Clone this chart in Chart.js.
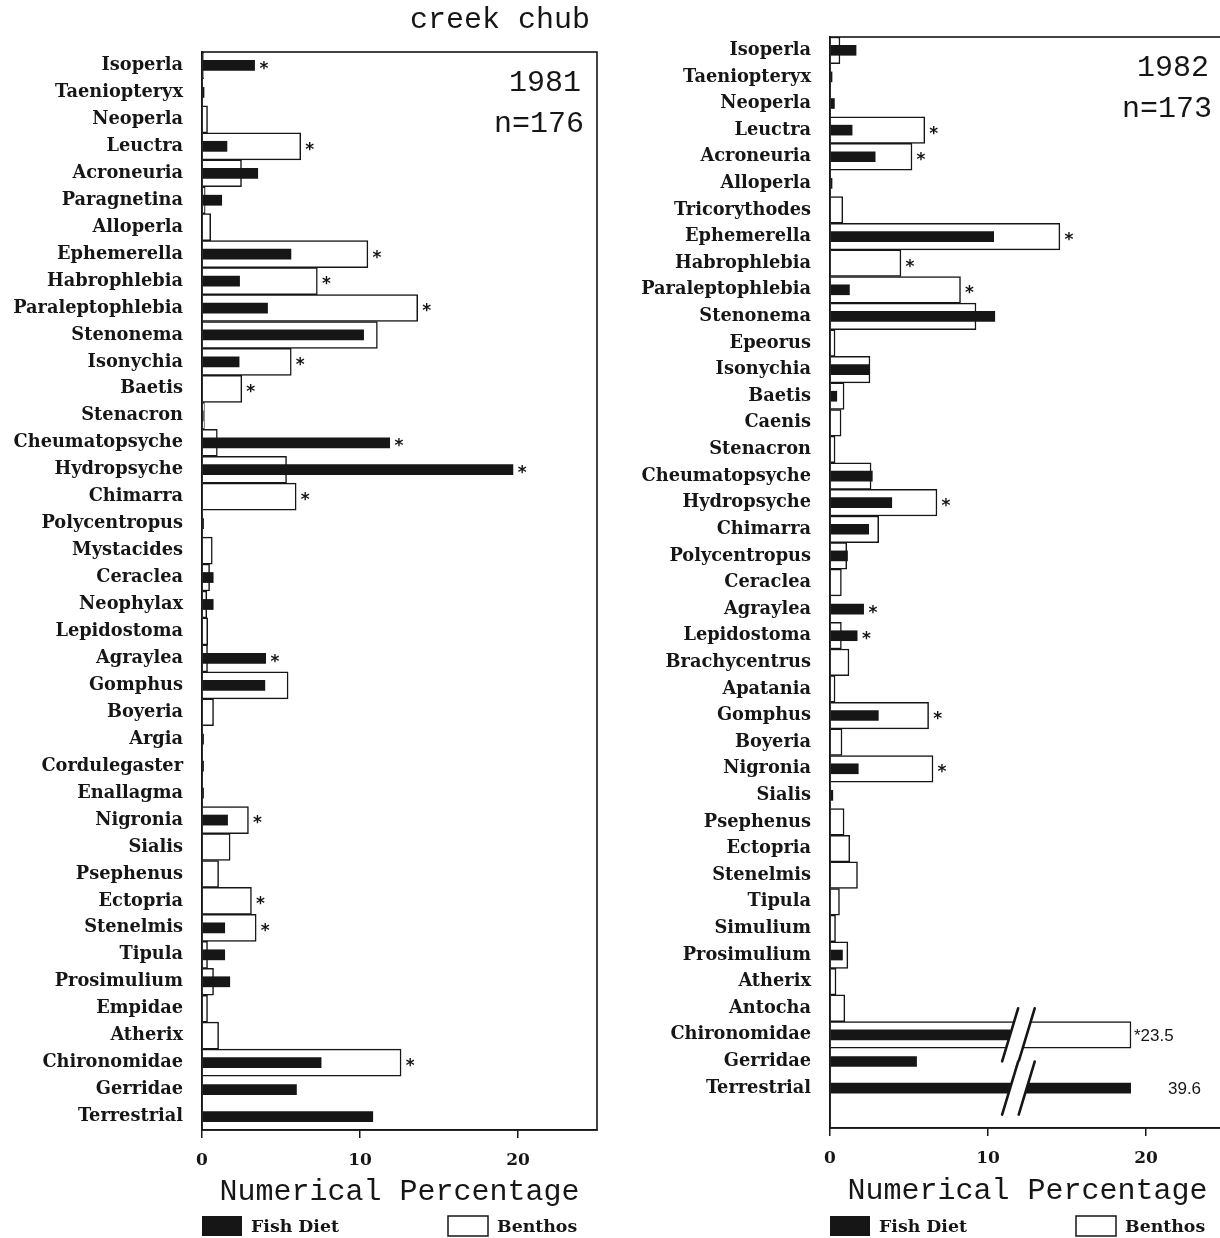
<!DOCTYPE html>
<html>
<head>
<meta charset="utf-8">
<script src="https://cdn.jsdelivr.net/npm/chart.js@4.4.1/dist/chart.umd.min.js"></script>
<style>
  html, body { margin: 0; padding: 0; background: #fff; overflow: hidden; width: 1220px; height: 1238px; }
  canvas { position: absolute; top: 0; }
  #c1 { left: 0; }
  #c2 { left: 610px; }
</style>
</head>
<body>
<canvas id="c1" width="610" height="1238"></canvas>
<canvas id="c2" width="620" height="1238"></canvas>
<script>
// ---------------- DATA ----------------
const categories1981 = ['Isoperla','Taeniopteryx','Neoperla','Leuctra','Acroneuria','Paragnetina','Alloperla',
  'Ephemerella','Habrophlebia','Paraleptophlebia','Stenonema','Isonychia','Baetis','Stenacron','Cheumatopsyche',
  'Hydropsyche','Chimarra','Polycentropus','Mystacides','Ceraclea','Neophylax','Lepidostoma','Agraylea','Gomphus',
  'Boyeria','Argia','Cordulegaster','Enallagma','Nigronia','Sialis','Psephenus','Ectopria','Stenelmis','Tipula',
  'Prosimulium','Empidae','Atherix','Chironomidae','Gerridae','Terrestrial'];
const fishDiet1981 = [3.35,0.15,0,1.6,3.55,1.27,0,5.65,2.4,4.17,10.25,2.37,0,0.1,11.9,19.7,0,0.12,0,0.73,0.73,0,
  4.05,4.0,0,0.12,0.12,0.12,1.64,0,0,0,1.46,1.46,1.78,0,0,7.56,6.0,10.83];
const benthos1981 = [0.1,0,0.35,6.25,2.5,0.2,0.55,10.5,7.3,13.65,11.1,5.65,2.52,0.15,0.97,5.35,5.96,0,0.65,0.48,0.3,
  0.36,0.35,5.45,0.73,0,0,0,2.94,1.78,1.05,3.13,3.43,0.35,0.73,0.35,1.05,12.6,0,0];
const signif1981 = [1,0,0,1,0,0,0,1,1,1,0,1,1,0,1,1,1,0,0,0,0,0,1,0,0,0,0,0,1,0,0,1,1,0,0,0,0,1,0,0];

const categories1982 = ['Isoperla','Taeniopteryx','Neoperla','Leuctra','Acroneuria','Alloperla','Tricorythodes',
  'Ephemerella','Habrophlebia','Paraleptophlebia','Stenonema','Epeorus','Isonychia','Baetis','Caenis','Stenacron',
  'Cheumatopsyche','Hydropsyche','Chimarra','Polycentropus','Ceraclea','Agraylea','Lepidostoma','Brachycentrus',
  'Apatania','Gomphus','Boyeria','Nigronia','Sialis','Psephenus','Ectopria','Stenelmis','Tipula','Simulium',
  'Prosimulium','Atherix','Antocha','Chironomidae','Gerridae','Terrestrial',''];
const fishDiet1982 = [1.67,0.15,0.3,1.42,2.88,0.15,0,10.38,0,1.25,10.45,0,2.47,0.45,0,0,2.7,3.93,2.47,1.13,0,2.15,
  1.74,0,0,3.08,0,1.81,0.2,0,0,0,0,0,0.81,0,0,11.4,5.5,39.6,null];
const benthos1982 = [0.63,0,0,6.0,5.19,0,0.81,14.55,4.49,8.26,9.24,0.32,2.53,0.89,0.7,0.32,2.6,6.77,3.08,1.06,0.72,0,
  0.72,1.2,0.32,6.24,0.76,6.52,0,0.89,1.25,1.74,0.6,0.35,1.13,0.38,0.94,23.5,0,0,null];
const signif1982 = [0,0,0,1,1,0,0,1,1,1,0,0,0,0,0,0,0,1,0,0,0,1,1,0,0,1,0,1,0,0,0,0,0,0,0,0,0,1,0,0,0];

const xTicks = [0, 10, 20];
const seriesNames = ['Fish Diet', 'Benthos'];

// axis break (values beyond the limit are drawn broken)
const BREAK_LIMIT = 20;
const BROKEN_SHOWN = 19.05;
const BREAK_A = 11.4, BREAK_B = 12.45;

// ---------------- STYLE ----------------
const INK = '#161616';
const LABEL_FONT = 'DejaVu Serif';
const MONO = 'Liberation Mono';
const toShown = v => (v == null ? v : (v > BREAK_LIMIT ? BROKEN_SHOWN : v));

function fitSize(text, family, weight, target, cap) {
  const c = document.createElement('canvas').getContext('2d');
  c.font = weight + ' 100px "' + family + '"';
  const s = 100 * target / c.measureText(text).width;
  return Math.min(s, cap);
}
const LABEL_SIZE = fitSize('Paraleptophlebia', LABEL_FONT, 'bold', 170, 19);
const LEGEND_SIZE = fitSize('Fish Diet', LABEL_FONT, 'bold', 88, 19);

function build(id, cfg) {
  const extras = {
    id: 'extras',
    afterDatasetsDraw(chart) {
      const { ctx, scales: { x, y } } = chart;
      ctx.save();
      // axis breaks
      cfg.cats.forEach((c, i) => {
        const tv = Math.max(cfg.fish[i] || 0, cfg.benthos[i] || 0);
        if (tv <= BREAK_LIMIT) return;
        const yc = y.getPixelForValue(i);
        const h = 26.5, run = 8;
        const xa = x.getPixelForValue(BREAK_A), xb = x.getPixelForValue(BREAK_B);
        ctx.fillStyle = '#fff';
        ctx.beginPath();
        ctx.moveTo(xa - run, yc + h); ctx.lineTo(xa + run, yc - h);
        ctx.lineTo(xb + run, yc - h); ctx.lineTo(xb - run, yc + h);
        ctx.closePath(); ctx.fill();
        ctx.strokeStyle = INK; ctx.lineWidth = 2.6; ctx.lineCap = 'round';
        ctx.beginPath();
        ctx.moveTo(xa - run, yc + h); ctx.lineTo(xa + run, yc - h);
        ctx.moveTo(xb - run, yc + h); ctx.lineTo(xb + run, yc - h);
        ctx.stroke();
      });
      // asterisks and value notes
      ctx.fillStyle = INK;
      ctx.textBaseline = 'middle';
      cfg.cats.forEach((c, i) => {
        const tv = Math.max(cfg.fish[i] || 0, cfg.benthos[i] || 0);
        const end = x.getPixelForValue(toShown(tv));
        const yc = y.getPixelForValue(i);
        if (tv > BREAK_LIMIT) {
          ctx.font = '17px "Liberation Sans"';
          ctx.textAlign = 'left';
          ctx.fillText((cfg.sig[i] ? '*' : '') + tv.toFixed(1), end + (cfg.sig[i] ? 3 : 37), yc + 1);
        } else if (cfg.sig[i]) {
          ctx.font = 'bold 17px "DejaVu Sans"';
          ctx.textAlign = 'center';
          ctx.fillText('*', end + 9, yc + 4);
        }
      });
      ctx.restore();
    },
    afterDraw(chart) {
      const { ctx, chartArea: a } = chart;
      ctx.save();
      ctx.strokeStyle = INK; ctx.lineWidth = 1.6;
      ctx.strokeRect(a.left, a.top, a.right - a.left, a.bottom - a.top);
      ctx.fillStyle = INK;
      ctx.font = '30px "' + MONO + '"';
      ctx.textAlign = 'right'; ctx.textBaseline = 'middle';
      ctx.fillText(cfg.year, a.right - 16, a.top + 31);
      ctx.fillText('n=' + cfg.n, a.right - 13, a.top + 72);
      if (cfg.title) ctx.fillText(cfg.title, a.right - 7, 20);
      // legend
      const ly = chart.height - 12;
      chart.data.datasets.forEach((ds, k) => {
        const bx = a.left + (k === 0 ? 0 : 246);
        ctx.fillStyle = ds.backgroundColor;
        ctx.fillRect(bx, ly - 10, 40, 20);
        if (ds.borderWidth) {
          ctx.strokeStyle = ds.borderColor; ctx.lineWidth = 1.5;
          ctx.strokeRect(bx, ly - 10, 40, 20);
        }
        ctx.fillStyle = INK;
        ctx.font = 'bold ' + LEGEND_SIZE + 'px "' + LABEL_FONT + '"';
        ctx.textAlign = 'left';
        ctx.fillText(ds.label, bx + 49, ly + 1);
      });
      ctx.restore();
    }
  };

  return new Chart(document.getElementById(id), {
    type: 'bar',
    data: {
      labels: cfg.cats,
      datasets: [
        { label: seriesNames[0], data: cfg.fish.map(toShown), backgroundColor: INK, borderWidth: 0,
          barPercentage: 0.4, categoryPercentage: 1, grouped: false, order: 0 },
        { label: seriesNames[1], data: cfg.benthos.map(toShown), backgroundColor: '#ffffff', borderColor: INK,
          borderWidth: 1.5, barPercentage: 1, categoryPercentage: 1, grouped: false, order: 1 }
      ]
    },
    options: {
      indexAxis: 'y',
      responsive: false,
      animation: false,
      layout: { padding: { top: cfg.top, right: cfg.padRight, left: 0, bottom: 0 } },
      plugins: { legend: { display: false }, tooltip: { enabled: false } },
      scales: {
        x: {
          type: 'linear', min: 0, max: 25,
          afterFit: s => { s.height = cfg.xHeight; },
          afterBuildTicks: s => { s.ticks = xTicks.map(v => ({ value: v })); },
          grid: { display: true, drawOnChartArea: false, drawTicks: true, tickLength: 8, color: INK, lineWidth: 1.5 },
          border: { display: true, color: INK, width: 1.5 },
          ticks: { color: INK, padding: 12, font: { family: LABEL_FONT, weight: 'bold', size: 17 } },
          title: { display: true, text: 'Numerical Percentage', color: INK,
                   font: { family: MONO, size: 30, weight: 'normal' }, padding: { top: 0, bottom: cfg.titlePad } }
        },
        y: {
          type: 'category',
          afterFit: s => { s.width = cfg.yWidth; },
          grid: { display: false, drawTicks: false },
          border: { display: true, color: INK, width: 1.5 },
          ticks: { autoSkip: false, color: INK, padding: 19,
                   font: { family: LABEL_FONT, weight: 'bold', size: LABEL_SIZE } }
        }
      }
    },
    plugins: [extras]
  });
}

build('c1', { cats: categories1981, fish: fishDiet1981, benthos: benthos1981, sig: signif1981,
  year: '1981', n: 176, title: 'creek chub', top: 52, padRight: 13, xHeight: 108, yWidth: 202, titlePad: 28 });
build('c2', { cats: categories1982, fish: fishDiet1982, benthos: benthos1982, sig: signif1982,
  year: '1982', n: 173, title: null, top: 37, padRight: 5, xHeight: 110, yWidth: 220, titlePad: 29 });
</script>
</body>
</html>
